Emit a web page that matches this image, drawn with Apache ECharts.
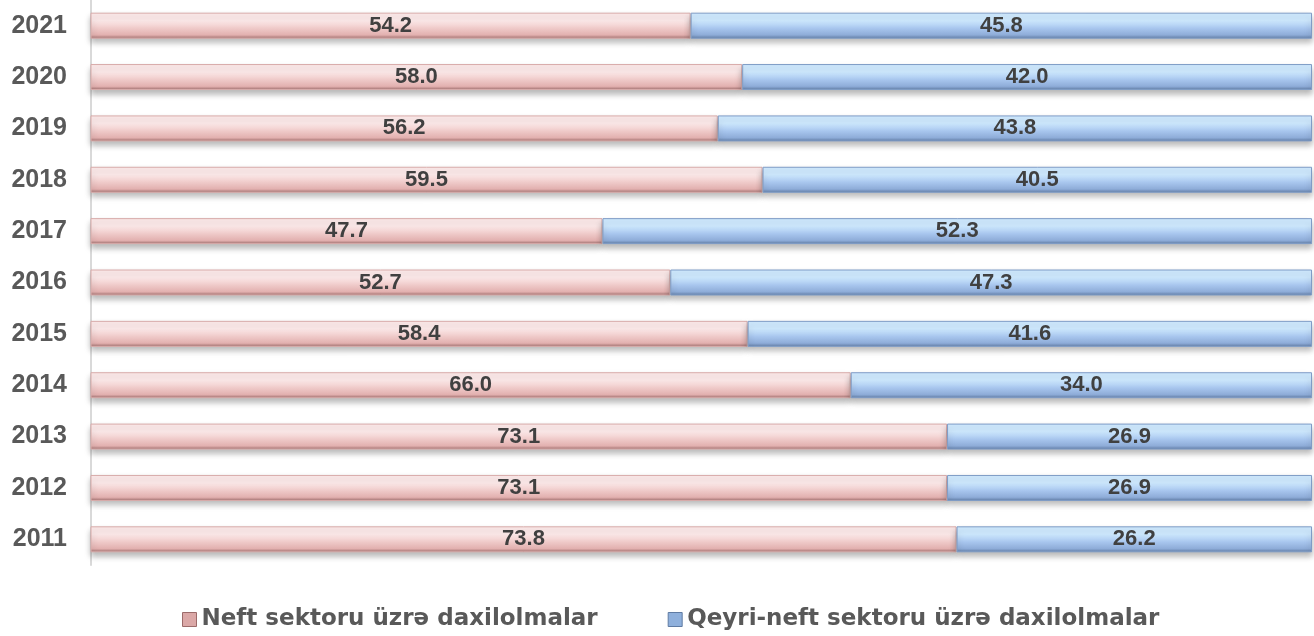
<!DOCTYPE html>
<html>
<head>
<meta charset="utf-8">
<script src="https://cdn.jsdelivr.net/npm/echarts@6/dist/echarts.min.js"></script>
<style>
  html, body { margin: 0; padding: 0; background: #fff; }
  #chart { width: 1314px; height: 636px; }
</style>
</head>
<body>
<div id="chart"></div>
<script>
// illər (aşağıdan yuxarı)
const years = ['2011', '2012', '2013', '2014', '2015', '2016', '2017', '2018', '2019', '2020', '2021']
// neft sektoru üzrə daxilolmalar, %
const oilShare = [73.8, 73.1, 73.1, 66.0, 58.4, 52.7, 47.7, 59.5, 56.2, 58.0, 54.2]
// qeyri-neft sektoru üzrə daxilolmalar, %
const nonOilShare = [26.2, 26.9, 26.9, 34.0, 41.6, 47.3, 52.3, 40.5, 43.8, 42.0, 45.8]
const seriesNames = ['Neft sektoru üzrə daxilolmalar', 'Qeyri-neft sektoru üzrə daxilolmalar']

const font = 'Arial, "Liberation Sans", sans-serif'

// şaquli gradient - "qabarıq" zolaq effekti
function barGrad(top, mid, bottom, edge) {
  return new echarts.graphic.LinearGradient(0, 0, 0, 1, [
    { offset: 0, color: top },
    { offset: 0.3, color: top },
    { offset: 0.6, color: mid },
    { offset: 0.86, color: bottom },
    { offset: 1, color: edge },
  ])
}

const pink = barGrad('#fdeaea', '#efcac9', '#e2b0af', '#9c6b6a')
const blue = barGrad('#cfeaff', '#a8c6ee', '#8eacd8', '#5f7ba3')

const labelStyle = {
  show: true,
  position: 'inside',
  color: '#404040',
  fontFamily: font,
  fontWeight: 'bold',
  fontSize: 22,
  formatter: (p) => p.value.toFixed(1),
}

const chart = echarts.init(document.getElementById('chart'))
chart.setOption({
  animation: false,
  grid: { left: 91, right: 2, top: -1, bottom: 71, containLabel: false },
  legend: {
    top: 603,
    left: 177,
    itemWidth: 14,
    itemHeight: 14,
    itemGap: 70,
    textStyle: { color: '#595959', fontFamily: '"DejaVu Sans", Arial, sans-serif', fontWeight: 'bold', fontSize: 23 },
    data: [
      { name: seriesNames[0], icon: 'rect', itemStyle: { color: '#dba8a7', borderColor: '#9c6b6a', borderWidth: 1 } },
      { name: seriesNames[1], icon: 'rect', itemStyle: { color: '#8fb0dc', borderColor: '#5f7ba3', borderWidth: 1 } },
    ],
  },
  xAxis: {
    type: 'value',
    min: 10,
    max: 100,
    show: false,
  },
  yAxis: {
    type: 'category',
    data: years,
    axisLine: { show: true, lineStyle: { color: '#d9d9d9', width: 2 } },
    axisTick: { show: false },
    axisLabel: { color: '#595959', fontFamily: font, fontWeight: 'bold', fontSize: 25, margin: 24 },
  },
  series: [
    {
      name: seriesNames[0],
      type: 'bar',
      stack: 'total',
      barWidth: 26,
      data: oilShare,
      itemStyle: {
        color: pink,
        borderColor: '#d8abaa',
        borderWidth: 1,
        shadowColor: 'rgba(0,0,0,0.28)',
        shadowBlur: 6,
        shadowOffsetY: 4,
      },
      label: labelStyle,
    },
    {
      name: seriesNames[1],
      type: 'bar',
      stack: 'total',
      barWidth: 26,
      data: nonOilShare,
      itemStyle: {
        color: blue,
        borderColor: '#7f9cc6',
        borderWidth: 1,
        shadowColor: 'rgba(0,0,0,0.28)',
        shadowBlur: 6,
        shadowOffsetY: 4,
      },
      label: labelStyle,
    },
  ],
})
</script>
</body>
</html>
